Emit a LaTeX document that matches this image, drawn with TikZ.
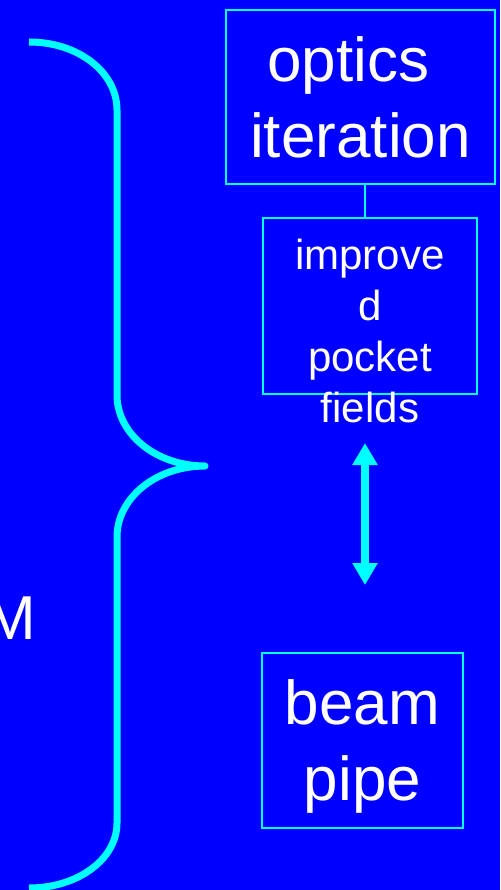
\documentclass[tikz,border=0pt]{standalone}
\usepackage{fontspec}
\setmainfont{Liberation Sans}
\usetikzlibrary{arrows.meta}
\definecolor{fond}{RGB}{0,0,255}
\definecolor{trait}{RGB}{0,255,255}
\tikzset{
  boite/.style={draw=trait, line width=2pt, inner sep=0pt, text=white, align=center},
  grand/.style={font=\fontsize{62pt}{76pt}\selectfont},
  petit/.style={font=\fontsize{42pt}{51pt}\selectfont},
}
\begin{document}
\begin{tikzpicture}[x=1pt,y=-1pt]
    % Fond
    \fill[fond] (0,0) rectangle (500,890);
    \useasboundingbox (0,0) rectangle (500,890);
    \clip (0,0) rectangle (500,890);
    % Accolade
    \draw[trait, line width=7pt, line join=round] (29,42) .. controls (78,42) and (117,72) .. (117,110)
        -- (117,395) .. controls (117,434) and (156,466) .. (205,466)
        .. controls (156,466) and (117,498) .. (117,537)
        -- (117,823) .. controls (117,859) and (78,888) .. (29,888);
    % Texte coupe a gauche
    \node[grand, text=white, anchor=base east, inner sep=0pt] (lettre) at (36.5,639) {M};
    % Boites
    \node[boite, grand, minimum width=269pt, minimum height=174pt] (optics) at (360.5,97) {optics\hspace*{24pt}\\iteration};
    \node[boite, minimum width=214pt, minimum height=176pt] (pocket) at (370,306) {};
    \node[petit, text=white, align=center, inner sep=0pt] (fields) at (370,331) {improve\\d\\pocket\\fields};
    \node[boite, grand, text depth=0pt, minimum width=201pt, minimum height=175pt] (beam) at (362.5,740.5) {beam\\pipe};
    % Liaisons
    \draw[trait, line width=2pt] ([xshift=4.5pt]optics.south) -- ([xshift=-5pt]pocket.north);
    \coordinate (haut) at (365,443);
    \coordinate (bas) at (365,585);
    \draw[trait, line width=8pt, {Triangle[width=24pt,length=22pt]}-{Triangle[width=24pt,length=22pt]}] (haut) -- (bas);
\end{tikzpicture}
\end{document}
